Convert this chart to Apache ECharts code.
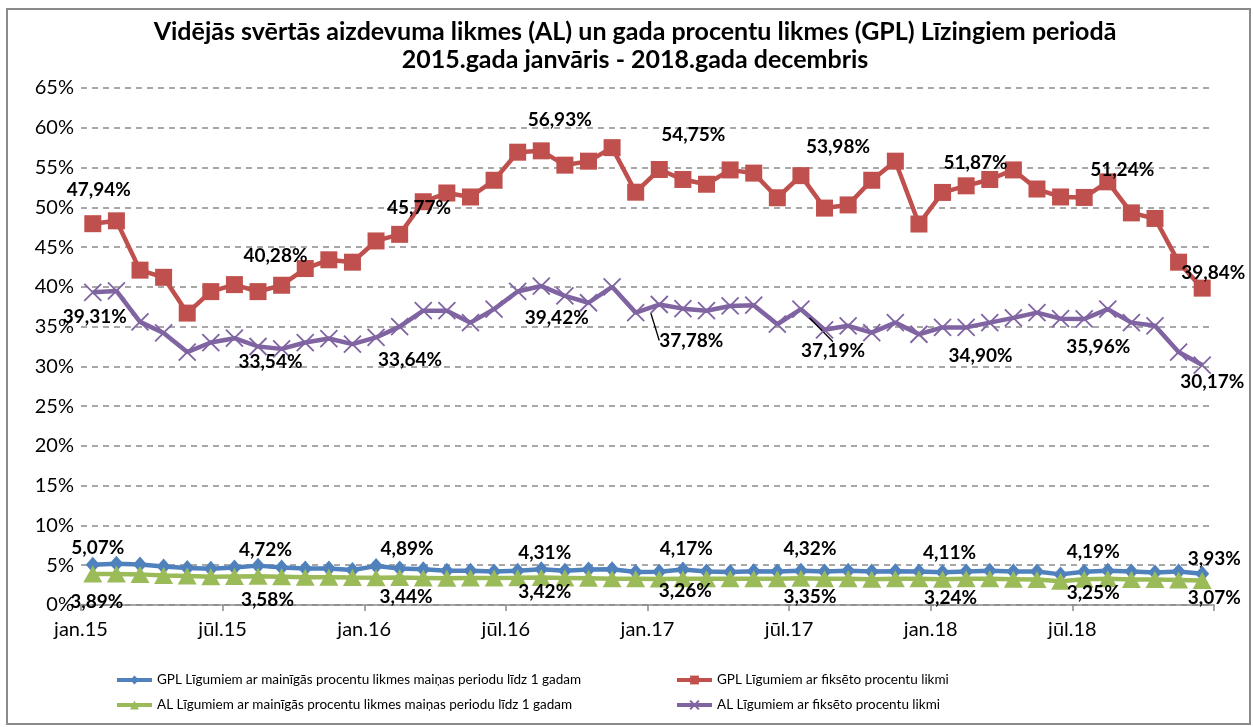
<!DOCTYPE html>
<html>
<head>
<meta charset="utf-8">
<script src="https://cdn.jsdelivr.net/npm/echarts@6/dist/echarts.min.js"></script>
<style>
html,body{margin:0;padding:0;background:#fff;}
#chart{width:1253px;height:727px;position:relative;}
#frame{position:absolute;left:6px;top:8px;width:1241px;height:713px;border:2px solid #8a8a8a;pointer-events:none;}
</style>
</head>
<body>
<div id="chart"></div>
<div id="frame"></div>
<script>
// ---- data ----
const monthNames = ['jan','feb','mar','apr','mai','jūn','jūl','aug','sep','okt','nov','dec'];
const years = ['15','16','17','18'];
const categories = [];
years.forEach(y => monthNames.forEach(m => categories.push(m + '.' + y)));

const seriesNames = [
  'GPL Līgumiem ar mainīgās procentu likmes maiņas periodu līdz 1 gadam',
  'GPL Līgumiem ar fiksēto procentu likmi',
  'AL Līgumiem ar mainīgās procentu likmes maiņas periodu līdz 1 gadam',
  'AL Līgumiem ar fiksēto procentu likmi'
];

const gplVariable = [5.07,5.20,5.10,4.85,4.65,4.55,4.72,4.95,4.70,4.60,4.60,4.40,
                     4.89,4.60,4.50,4.30,4.30,4.20,4.31,4.50,4.30,4.45,4.50,4.15,
                     4.17,4.45,4.20,4.15,4.25,4.20,4.32,4.20,4.30,4.20,4.25,4.20,
                     4.11,4.20,4.30,4.20,4.20,3.85,4.19,4.30,4.20,4.10,4.20,3.93];
const gplFixed = [47.94,48.30,42.10,41.20,36.70,39.40,40.28,39.40,40.20,42.30,43.40,43.10,
                  45.77,46.60,50.70,51.80,51.30,53.40,56.93,57.10,55.30,55.80,57.50,51.90,
                  54.75,53.50,52.90,54.70,54.30,51.20,53.98,49.90,50.30,53.40,55.80,47.90,
                  51.87,52.70,53.50,54.70,52.30,51.30,51.24,53.20,49.30,48.60,43.10,39.84];
const alVariable = [3.89,3.90,3.85,3.70,3.65,3.55,3.58,3.60,3.55,3.50,3.50,3.45,
                    3.44,3.45,3.40,3.35,3.40,3.40,3.42,3.45,3.40,3.35,3.30,3.30,
                    3.26,3.30,3.30,3.30,3.30,3.30,3.35,3.30,3.30,3.25,3.30,3.30,
                    3.24,3.30,3.30,3.25,3.20,3.00,3.25,3.30,3.20,3.20,3.15,3.07];
const alFixed = [39.31,39.48,35.60,34.20,31.80,33.00,33.54,32.50,32.20,33.00,33.50,32.80,
                 33.64,35.00,37.00,37.00,35.50,37.20,39.42,40.10,38.86,38.00,40.00,36.76,
                 37.78,37.26,37.00,37.60,37.70,35.30,37.19,34.60,35.10,34.25,35.50,34.04,
                 34.90,34.90,35.50,36.10,36.76,36.00,35.96,37.20,35.50,35.10,31.80,30.17];

const yTicks = {min: 0, max: 65, interval: 5};
const labelIndices = [0, 6, 12, 18, 24, 30, 36, 42, 47];

// ---- label placement (style) ----
const labelOffsets = [
  [[5,-17],[31,-18],[31,-17],[27,-18],[27,-23],[9,-22],[7,-19],[9,-20],[12,-15]],
  [[6,-34],[41,-29],[43,-33],[42,-32],[34,-35],[37,-29],[33,-30],[38,-28],[11,-15]],
  [[4,28],[33,23],[30,19],[27,14],[26,12],[9,19],[8,19],[9,14],[12,17]],
  [[2,25],[36,24],[34,22],[39,26],[32,36],[32,42],[38,28],[14,28],[10,17]]
];
const leaderLines = {3: [24, 30]};

const colors = ['#4F81BD', '#C0504D', '#9BBB59', '#8064A2'];
const symbols = ['diamond', 'rect', 'triangle', 'path://M0,0L10,10M10,0L0,10'];
const symbolSizes = [[14,16], 17, [19,17], 17];
const allValues = [gplVariable, gplFixed, alVariable, alFixed];

const FONT = 'Lato, "Open Sans", sans-serif';

function fmt(v) { return v.toFixed(2).replace('.', ',') + '%'; }

function buildSeries(si) {
  const vals = allValues[si];
  const data = vals.map((v, i) => {
    const k = labelIndices.indexOf(i);
    if (k < 0) return v;
    const item = {value: v, label: {show: true}};
    if (leaderLines[si] && leaderLines[si].indexOf(i) >= 0) {
      item.labelLine = {show: true, lineStyle: {color: '#000', width: 1.3}};
    }
    return item;
  });
  const isCross = si === 3;
  return {
    name: seriesNames[si],
    type: 'line',
    xAxisIndex: 0,
    data: data,
    symbol: symbols[si],
    symbolSize: symbolSizes[si],
    showAllSymbol: true,
    lineStyle: {color: colors[si], width: 4.5},
    itemStyle: isCross ? {color: colors[si], borderColor: colors[si], borderWidth: 1.8}
                       : {color: colors[si], borderWidth: 0},
    emphasis: {disabled: true},
    label: {
      show: false,
      position: 'inside',
      formatter: p => fmt(p.value),
      fontFamily: FONT,
      fontWeight: 'bold',
      fontSize: 19,
      color: '#000'
    },
    labelLine: {show: false},
    labelLayout: function (p) {
      const k = labelIndices.indexOf(p.dataIndex);
      if (k < 0) return {};
      const o = labelOffsets[si][k];
      return {dx: o[0], dy: o[1]};
    },
    z: 2 + si
  };
}

const tickCategories = categories.concat(['']);

const legendPos = [
  {left: 110, top: 668}, {left: 670, top: 668},
  {left: 110, top: 693}, {left: 670, top: 693}
];

const option = {
  animation: false,
  backgroundColor: '#fff',
  title: {
    text: 'Vidējās svērtās aizdevuma likmes (AL) un gada procentu likmes (GPL) Līzingiem periodā\n2015.gada janvāris - 2018.gada decembris',
    left: 630,
    textAlign: 'center',
    top: 13,
    textStyle: {fontFamily: FONT, fontWeight: 'bold', fontSize: 25, lineHeight: 28, color: '#000'}
  },
  legend: legendPos.map((p, i) => ({
    data: [seriesNames[i]],
    left: p.left,
    top: p.top,
    itemWidth: 35,
    itemHeight: 11,
    itemGap: 6,
    lineStyle: {width: 4},
    textStyle: {fontFamily: FONT, fontSize: 13.5, color: '#000'},
    selectedMode: false
  })),
  grid: {left: 81, right: 39, top: 88, bottom: 122, containLabel: false},
  xAxis: [
    {
      type: 'category',
      data: categories,
      boundaryGap: true,
      position: 'bottom',
      axisLine: {show: true, lineStyle: {color: '#8a8a8a', width: 1.5}},
      axisTick: {show: false},
      axisLabel: {show: false},
      splitLine: {show: false}
    },
    {
      type: 'category',
      data: tickCategories,
      boundaryGap: false,
      position: 'bottom',
      axisLine: {show: false},
      axisTick: {show: true, interval: 5, length: 6, lineStyle: {color: '#8a8a8a', width: 1.5}},
      axisLabel: {show: true, interval: 5, margin: 15, fontFamily: FONT, fontSize: 20, color: '#000'},
      splitLine: {show: false}
    }
  ],
  yAxis: {
    type: 'value',
    min: yTicks.min,
    max: yTicks.max,
    interval: yTicks.interval,
    axisLine: {show: false},
    axisTick: {show: false},
    axisLabel: {formatter: '{value}%', fontFamily: FONT, fontSize: 20, color: '#000', margin: 7},
    splitLine: {show: true, lineStyle: {color: '#8a8a8a', width: 1.5, type: [6, 5]}}
  },
  series: [0, 1, 2, 3].map(buildSeries)
};

const chart = echarts.init(document.getElementById('chart'), null, {renderer: 'canvas'});
chart.setOption(option);
</script>
</body>
</html>
